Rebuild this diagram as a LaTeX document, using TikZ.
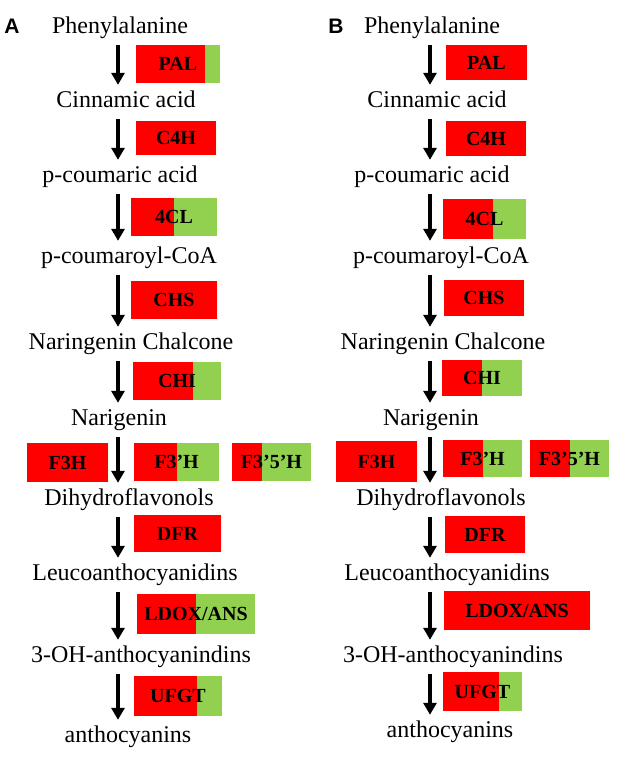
\documentclass[tikz,border=0pt]{standalone}
\usepackage{fontspec}
\setmainfont{Liberation Serif}
\setsansfont{Liberation Sans}
\usepackage{tikz}
\usetikzlibrary{arrows.meta,calc,positioning}
\definecolor{enzred}{RGB}{255,0,0}
\definecolor{enzgreen}{RGB}{146,208,80}
\tikzset{
  metab/.style={anchor=base,inner sep=0pt,text height=22pt,text depth=12pt,
    font=\fontsize{24}{28}\selectfont},
  enzlabel/.style={inner sep=0pt,text height=13pt,text depth=0pt,
    font=\fontsize{20}{24}\selectfont\bfseries},
  panel/.style={anchor=base,inner sep=0pt,font=\fontsize{21}{24}\selectfont\sffamily\bfseries},
  conv/.style={line width=3.5pt,-{Triangle[width=13pt,length=12pt]}}
}
\newcommand{\enzyme}[7]{%
  \fill[enzred] (#2,#5) rectangle (#3,#6);
  \fill[enzgreen] (#3,#5) rectangle (#4,#6);
  \node[enzlabel] (#1) at ({(#2+#4)/2},{(#5+#6)/2}) {#7};
}

\begin{document}
\begin{tikzpicture}[x=1pt,y=-1pt]
  \useasboundingbox[fill=white] (0,0) rectangle (627,761);
  % panel A
  \node[panel] (labA) at (12,33) {A};
  \node[metab] (pheA) at (120,33) {Phenylalanine};
  \node[metab] (cinA) at (126,107) {Cinnamic acid};
  \node[metab] (pcaA) at (120,182) {p-coumaric acid};
  \node[metab] (pcoA) at (129,263) {p-coumaroyl-CoA};
  \node[metab] (nchA) at (131,349) {Naringenin Chalcone};
  \node[metab] (narA) at (119,425) {Narigenin};
  \node[metab] (dhfA) at (129,505) {Dihydroflavonols};
  \node[metab] (leuA) at (135,580) {Leucoanthocyanidins};
  \node[metab] (ohaA) at (141,662) {3-OH-anthocyanindins};
  \node[metab] (antA) at (128,742) {anthocyanins};
  \coordinate (axA) at (118,0);
  \foreach \a/\b in {pheA/cinA,cinA/pcaA,pcaA/pcoA,pcoA/nchA,nchA/narA,
      narA/dhfA,dhfA/leuA,leuA/ohaA,ohaA/antA}
    \draw[conv] (axA |- \a.south) -- (axA |- \b.north);
  \enzyme{palA}{136}{205}{220}{45}{83}{PAL}
  \enzyme{c4hA}{136}{216}{216}{121}{155}{C4H}
  \enzyme{clA}{131}{174}{217}{198}{236}{4CL}
  \enzyme{chsA}{131}{217}{217}{281}{319}{CHS}
  \enzyme{chiA}{133}{193}{221}{362}{400}{CHI}
  \enzyme{fhA}{27}{108}{108}{443}{482}{F3H}
  \enzyme{fpA}{134}{177}{219}{443}{481}{F3’H}
  \enzyme{fppA}{232}{262}{311}{443}{481}{F3’5’H}
  \enzyme{dfrA}{134}{221}{221}{515}{552}{DFR}
  \enzyme{ansA}{137}{196}{255}{594}{634}{LDOX/ANS}
  \enzyme{ufgtA}{134}{197}{222}{676}{716}{UFGT}
  % panel B
  \node[panel] (labB) at (336,33) {B};
  \node[metab] (pheB) at (432,33) {Phenylalanine};
  \node[metab] (cinB) at (437,107) {Cinnamic acid};
  \node[metab] (pcaB) at (432,182) {p-coumaric acid};
  \node[metab] (pcoB) at (441,263) {p-coumaroyl-CoA};
  \node[metab] (nchB) at (443,349) {Naringenin Chalcone};
  \node[metab] (narB) at (431,425) {Narigenin};
  \node[metab] (dhfB) at (441,505) {Dihydroflavonols};
  \node[metab] (leuB) at (447,580) {Leucoanthocyanidins};
  \node[metab] (ohaB) at (453,662) {3-OH-anthocyanindins};
  \node[metab] (antB) at (450,737) {anthocyanins};
  \coordinate (axB) at (430,0);
  \foreach \a/\b in {pheB/cinB,cinB/pcaB,pcaB/pcoB,pcoB/nchB,nchB/narB,
      narB/dhfB,dhfB/leuB,leuB/ohaB,ohaB/antB}
    \draw[conv] (axB |- \a.south) -- (axB |- \b.north);
  \enzyme{palB}{446}{527}{527}{45}{80}{PAL}
  \enzyme{c4hB}{446}{526}{526}{121}{156}{C4H}
  \enzyme{clB}{443}{493}{526}{199}{239}{4CL}
  \enzyme{chsB}{444}{524}{524}{280}{316}{CHS}
  \enzyme{chiB}{442}{482}{522}{360}{396}{CHI}
  \enzyme{fhB}{336}{417}{417}{441}{482}{F3H}
  \enzyme{fpB}{443}{483}{522}{440}{477}{F3’H}
  \enzyme{fppB}{530}{570}{609}{440}{477}{F3’5’H}
  \enzyme{dfrB}{445}{525}{525}{516}{553}{DFR}
  \enzyme{ansB}{444}{590}{590}{591}{630}{LDOX/ANS}
  \enzyme{ufgtB}{443}{499}{522}{672}{711}{UFGT}
\end{tikzpicture}
\end{document}
